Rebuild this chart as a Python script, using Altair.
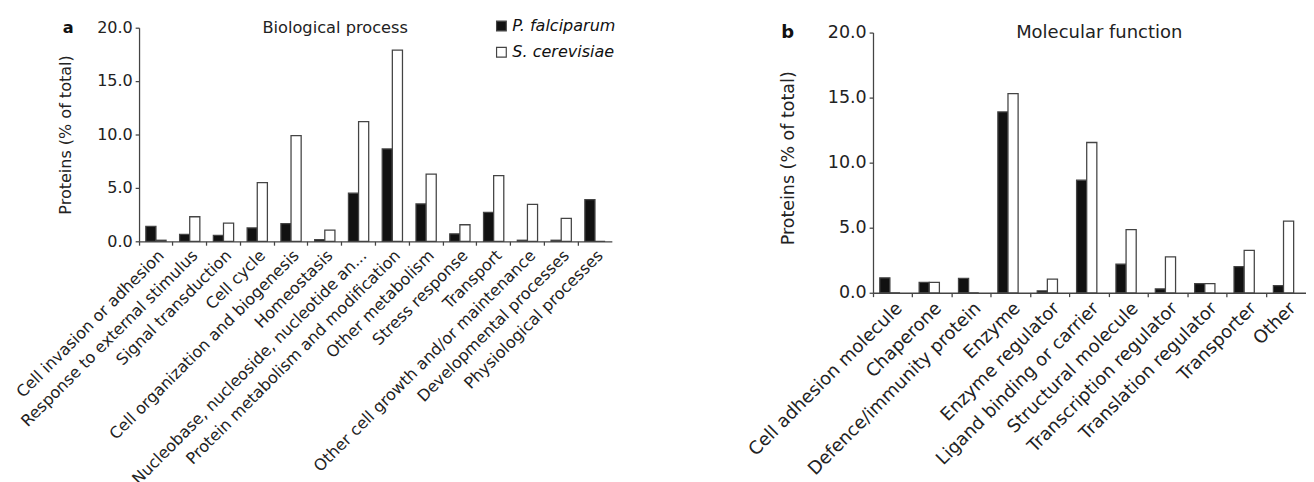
import altair as alt
import pandas as pd

# ---- data ----
series = ["P. falciparum", "S. cerevisiae"]
y_ticks = [0, 5, 10, 15, 20]

bp_categories = [
    "Cell invasion or adhesion",
    "Response to external stimulus",
    "Signal transduction",
    "Cell cycle",
    "Cell organization and biogenesis",
    "Homeostasis",
    "Nucleobase, nucleoside, nucleotide an...",
    "Protein metabolism and modification",
    "Other metabolism",
    "Stress response",
    "Transport",
    "Other cell growth and/or maintenance",
    "Developmental processes",
    "Physiological processes",
]
bp_pf = [1.4, 0.65, 0.55, 1.25, 1.65, 0.15, 4.5, 8.65, 3.5, 0.7, 2.7, 0.1, 0.1, 3.9]
bp_sc = [0.1, 2.3, 1.7, 5.5, 9.9, 1.05, 11.2, 17.9, 6.3, 1.55, 6.15, 3.45, 2.15, 0.0]

mf_categories = [
    "Cell adhesion molecule",
    "Chaperone",
    "Defence/immunity protein",
    "Enzyme",
    "Enzyme regulator",
    "Ligand binding or carrier",
    "Structural molecule",
    "Transcription regulator",
    "Translation regulator",
    "Transporter",
    "Other",
]
mf_pf = [1.15, 0.8, 1.1, 13.9, 0.15, 8.65, 2.2, 0.3, 0.7, 2.0, 0.55]
mf_sc = [0.0, 0.8, 0.0, 15.3, 1.05, 11.55, 4.85, 2.75, 0.7, 3.25, 5.5]

FONT = "DejaVu Sans"
AX = "#444"
TXT = "#222"


def long_table(cats, a, b):
    rows = []
    for c, va, vb in zip(cats, a, b):
        rows.append({"category": c, "series": series[0], "value": va})
        rows.append({"category": c, "series": series[1], "value": vb})
    return pd.DataFrame(rows)


def panel(cats, a, b, width, height, top_gap, off_pad, fs_tick, fs_lab, fs_title,
          fs_ytitle, letter, title, title_x, title_pos, letter_x, legend):
    df = long_table(cats, a, b)
    color_legend = None
    if legend:
        color_legend = alt.Legend(
            orient="none", legendX=365, legendY=-10, title=None,
            symbolType="square", symbolSize=100, symbolStrokeColor=AX,
            symbolStrokeWidth=1.2, labelFont=FONT, labelFontSize=16.5,
            labelFontStyle="italic", labelColor="#111", rowPadding=10,
            labelOffset=3, padding=0,
        )
    full_h = height + top_gap
    bars = alt.Chart(df).mark_bar(stroke=AX, strokeWidth=1.3).encode(
        x=alt.X("category:N", sort=cats,
                scale=alt.Scale(paddingInner=0, paddingOuter=0),
                axis=alt.Axis(title=None, labelAngle=-45, labelFont=FONT,
                              labelFontSize=fs_lab, labelColor=TXT,
                              labelLimit=600, domainColor=AX, domainWidth=1.3,
                              tickColor=AX, tickSize=4, tickWidth=1.3,
                              bandPosition=0, labelPadding=2)),
        xOffset=alt.XOffset("series:N", sort=series,
                            scale=alt.Scale(domain=series, paddingInner=0,
                                            paddingOuter=off_pad)),
        y=alt.Y("value:Q",
                scale=alt.Scale(domain=[0, 20], nice=False,
                                range=[full_h, top_gap]),
                axis=alt.Axis(values=y_ticks, format=".1f",
                              title="Proteins (% of total)",
                              titleFont=FONT, titleFontSize=fs_ytitle,
                              titleFontWeight="normal", titleColor=TXT,
                              titleX=title_pos[0], titleY=title_pos[1] + top_gap,
                              titleAngle=270, titleAlign="center",
                              titleBaseline="middle",
                              labelFont=FONT, labelFontSize=fs_tick,
                              labelColor=TXT, grid=False, domainColor=AX,
                              domainWidth=1.3, tickColor=AX, tickSize=4,
                              tickWidth=1.3, labelPadding=3)),
        color=alt.Color("series:N", sort=series,
                        scale=alt.Scale(domain=series, range=["#111111", "#ffffff"]),
                        legend=color_legend),
    )
    letter_layer = alt.Chart(pd.DataFrame({"t": [letter], "v": [20]})).mark_text(
        font=FONT, fontSize=fs_title, fontWeight="bold", color="#111",
        align="center", baseline="middle",
    ).encode(text="t:N", x=alt.value(letter_x), y="v:Q")
    title_layer = alt.Chart(pd.DataFrame({"t": [title], "v": [20]})).mark_text(
        font=FONT, fontSize=fs_title, color=TXT, align="center", baseline="middle",
    ).encode(text="t:N", x=alt.value(title_x), y="v:Q")
    return alt.layer(bars, letter_layer, title_layer).properties(
        width=width, height=full_h
    ).resolve_scale(color="independent")


pa = panel(bp_categories, bp_pf, bp_sc, 487, 220, 0, 0.667, 16.5, 16.5, 16.7, 16.5,
           "a", "Biological process", 202, (-76, 110), -73, True)
pb = panel(mf_categories, mf_pf, mf_sc, 446, 268, 5, 0.56, 18, 18.5, 18.5, 18,
           "b", "Molecular function", 233, (-87, 129), -88, False)

chart = alt.hconcat(pa, pb, spacing=133).properties(
    padding={"left": 5, "top": 3, "right": 0, "bottom": 0}
).configure_view(stroke=None).resolve_scale(color="independent")

chart.save("out.html", embed_options={"renderer": "svg", "actions": False})
